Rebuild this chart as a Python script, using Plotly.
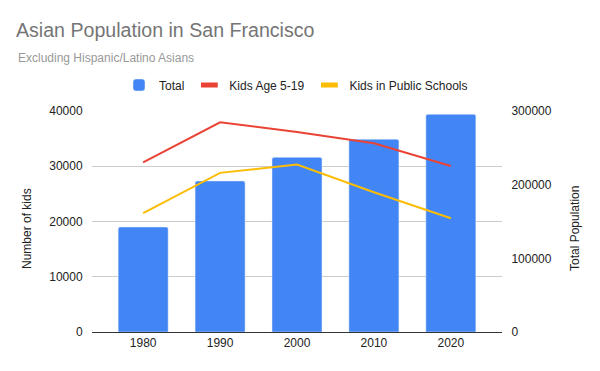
import plotly.graph_objects as go

years = ["1980", "1990", "2000", "2010", "2020"]
total_population = [142500, 205000, 237100, 261600, 295500]
kids_age_5_19 = [30700, 37950, 36200, 34150, 30050]
kids_public_schools = [21500, 28800, 30300, 25300, 20600]

BLUE = "#4285F4"
RED = "#EA4335"
YELLOW = "#FBBC04"
FONT = "Liberation Sans, Arial, sans-serif"

fig = go.Figure()
fig.add_trace(go.Bar(x=years, y=total_population, name="Total", marker=dict(color=BLUE, cornerradius=2),
                     yaxis="y", showlegend=True))
fig.add_trace(go.Scatter(x=years, y=kids_age_5_19, mode="lines", line=dict(color=RED, width=2),
                         yaxis="y2", showlegend=False, name="Kids Age 5-19"))
fig.add_trace(go.Scatter(x=years, y=kids_public_schools, mode="lines", line=dict(color=YELLOW, width=2),
                         yaxis="y2", showlegend=False, name="Kids in Public Schools"))
# legend entries
for nm, col in [("Kids Age 5-19", RED), ("Kids in Public Schools", YELLOW)]:
    fig.add_trace(go.Scatter(x=[None], y=[None], mode="markers", name=nm, yaxis="y2",
                             marker=dict(symbol="line-ew", size=12, color=col, line=dict(color=col, width=5))))

W, H = 600, 371
L, R, T, B = 92, 98, 111, 39
pw, ph = W - L - R, H - T - B

def px_x(p):
    return (p - L) / pw

def px_y(p):
    return (H - B - p) / ph

fig.update_layout(
    width=W, height=H,
    margin=dict(l=L, r=R, t=T, b=B, pad=0, autoexpand=False),
    paper_bgcolor="white", plot_bgcolor="white",
    font=dict(family=FONT, size=12, color="#222222"),
    bargap=0.35,
    title=dict(text="Asian Population in San Francisco", x=16 / W, xanchor="left", xref="container",
               y=1 - 30 / H, yanchor="middle", yref="container",
               font=dict(family=FONT, size=19.6, color="#757575")),
    xaxis=dict(type="category", range=[-0.665, 4.665], showgrid=False, showline=True, linecolor="#333333",
               linewidth=1, ticks="", tickfont=dict(size=12, color="#222222"), tickangle=0, automargin=False),
    yaxis=dict(side="right", range=[0, 300000], tickvals=[0, 100000, 200000, 300000],
               ticktext=["0", "100000", "200000", "300000"], showgrid=False, zeroline=False,
               showline=False, ticks="outside", ticklen=6, tickcolor="rgba(0,0,0,0)",
               tickfont=dict(size=12, color="#222222"), automargin=False),
    yaxis2=dict(overlaying="y", side="left", range=[0, 40000], tickvals=[0, 10000, 20000, 30000, 40000],
                ticktext=["0", "10000", "20000", "30000", "40000"], showgrid=True, gridcolor="#CCCCCC",
                gridwidth=1, zeroline=False, showline=False, ticks="outside", ticklen=6,
                tickcolor="rgba(0,0,0,0)", tickfont=dict(size=12, color="#222222"), automargin=False),
    legend=dict(orientation="h", xref="paper", x=px_x(296), xanchor="center", yref="paper",
                y=px_y(85), yanchor="middle", font=dict(size=12, color="#222222"),
                bgcolor="rgba(0,0,0,0)", itemwidth=30, traceorder="normal"),
    annotations=[
        dict(text="Excluding Hispanic/Latino Asians", xref="paper", yref="paper", x=px_x(16), y=px_y(58),
             xanchor="left", yanchor="middle", showarrow=False, font=dict(family=FONT, size=12, color="#999999")),
        dict(text="Number of kids", xref="paper", yref="paper", x=px_x(27), y=px_y(229),
             xanchor="center", yanchor="middle", textangle=-90, showarrow=False,
             font=dict(family=FONT, size=12, color="#222222")),
        dict(text="Total Population", xref="paper", yref="paper", x=px_x(575), y=px_y(229),
             xanchor="center", yanchor="middle", textangle=-90, showarrow=False,
             font=dict(family=FONT, size=12, color="#222222")),
    ],
)

fig.write_html("out.html", config={"displayModeBar": False},
               post_script="document.body.style.margin='0px';")
